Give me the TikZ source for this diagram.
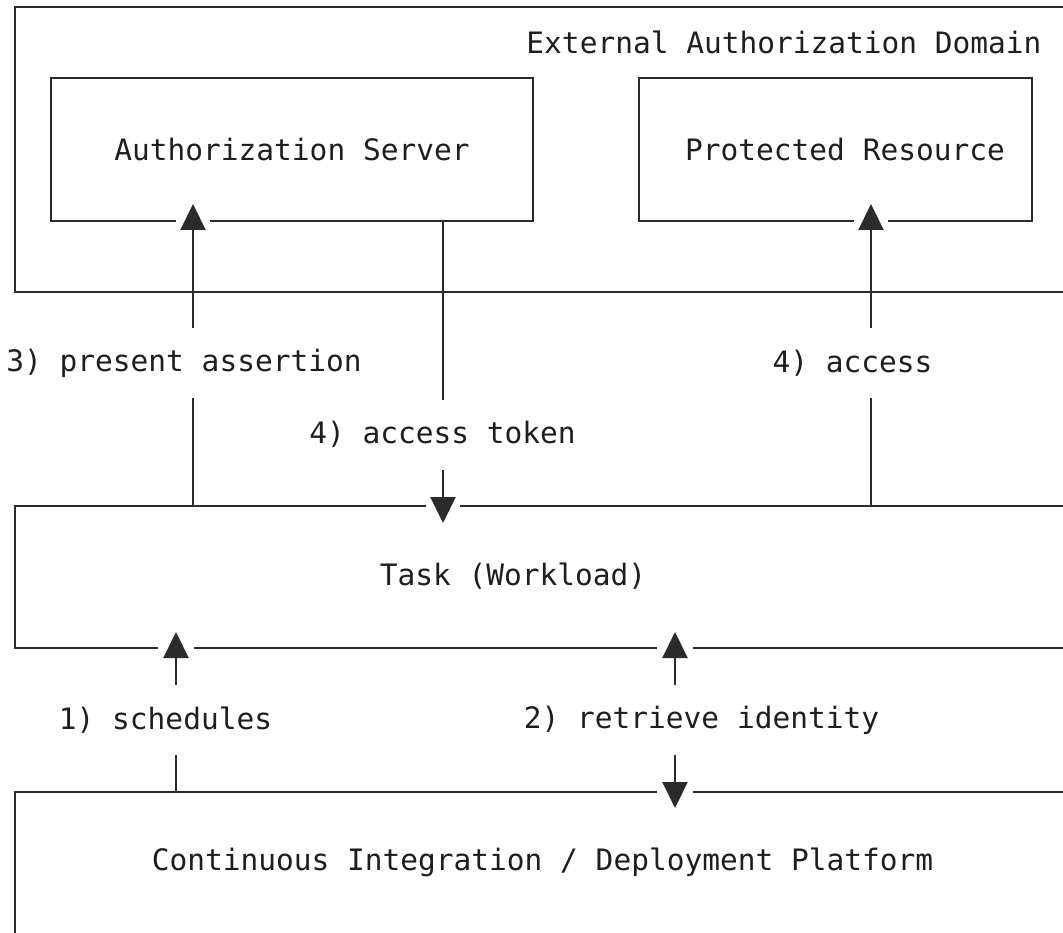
\documentclass[tikz,border=0pt]{standalone}
\usepackage{fontspec}
\setmonofont{DejaVu Sans Mono}
\usetikzlibrary{arrows.meta,calc}
\definecolor{ink}{HTML}{2B2B2B}
\definecolor{txt}{HTML}{1E1E1E}

\begin{document}
\begin{tikzpicture}[x=1pt,y=-1pt,
  box/.style={draw=ink, line width=2.5pt, rectangle, inner sep=0pt,
              outer sep=0pt, anchor=north west},
  caption/.style={text=txt, inner sep=0pt,
              font=\ttfamily\fontsize{29.5}{34}\selectfont},
  tag/.style={caption, fill=white, inner xsep=6pt, minimum height=70pt},
  flow/.style={draw=ink, line width=2.2pt,
              -{Triangle[width=25pt,length=26pt]}},
  twoway/.style={draw=ink, line width=2.2pt,
              {Triangle[width=25pt,length=26pt]}-{Triangle[width=25pt,length=26pt]}},
  halo/.style={fill=white}
]
\useasboundingbox (0,0) rectangle (1063,933);
\clip (0,0) rectangle (1063,933);
\fill[white] (0,0) rectangle (1063,933);

% containers and components
\node[box, minimum width=1100pt, minimum height=285pt] (domain) at (15,7) {};
\node[caption] (domaintitle) at (784,42) {External Authorization Domain};
\node[box, minimum width=482pt, minimum height=143pt] (as) at (51,78) {};
\node[caption] (astext) at (292,149.5) {Authorization Server};
\node[box, minimum width=393pt, minimum height=143pt] (pr) at (639,78) {};
\node[caption] (prtext) at (845,149.5) {Protected Resource};
\node[box, minimum width=1100pt, minimum height=142pt] (task) at (15,506) {};
\node[caption] (tasktext) at (513,576) {Task (Workload)};
\node[box, minimum width=1100pt, minimum height=400pt] (ci) at (15,792) {};
\node[caption] (citext) at (542.5,862) {Continuous Integration / Deployment Platform};

% x positions of the connectors
\coordinate (xa) at (193,0);
\coordinate (xb) at (443,0);
\coordinate (xc) at (871,0);
\coordinate (xd) at (176,0);
\coordinate (xe) at (675,0);

% white gaps in the box outlines around the arrow heads
\fill[halo] ($(as.south -| xa)+(-17,-4)$) rectangle ($(as.south -| xa)+(17,4)$);
\fill[halo] ($(pr.south -| xc)+(-17,-4)$) rectangle ($(pr.south -| xc)+(17,4)$);
\fill[halo] ($(task.north -| xb)+(-17,-4)$) rectangle ($(task.north -| xb)+(17,4)$);
\fill[halo] ($(task.south -| xd)+(-18,-4)$) rectangle ($(task.south -| xd)+(18,4)$);
\fill[halo] ($(task.south -| xe)+(-18,-4)$) rectangle ($(task.south -| xe)+(18,4)$);
\fill[halo] ($(ci.north -| xe)+(-18,-4)$) rectangle ($(ci.north -| xe)+(18,4)$);

% connectors
\draw[flow] (task.north -| xa) -- ($(as.south -| xa)+(0,-17)$);
\draw[flow] (as.south -| xb) -- ($(task.north -| xb)+(0,17)$);
\draw[flow] (task.north -| xc) -- ($(pr.south -| xc)+(0,-17)$);
\draw[flow] (ci.north -| xd) -- ($(task.south -| xd)+(0,-16)$);
\draw[twoway] ($(ci.north -| xe)+(0,16)$) -- ($(task.south -| xe)+(0,-16)$);

% connector labels
\node[tag] (l3) at (184,363) {3) present assertion};
\node[tag] (l4a) at (442.5,434.5) {4) access token};
\node[tag] (l4b) at (852.5,363) {4) access};
\node[tag] (l1) at (165.5,720) {1) schedules};
\node[tag] (l2) at (701.5,720) {2) retrieve identity};
\end{tikzpicture}
\end{document}
